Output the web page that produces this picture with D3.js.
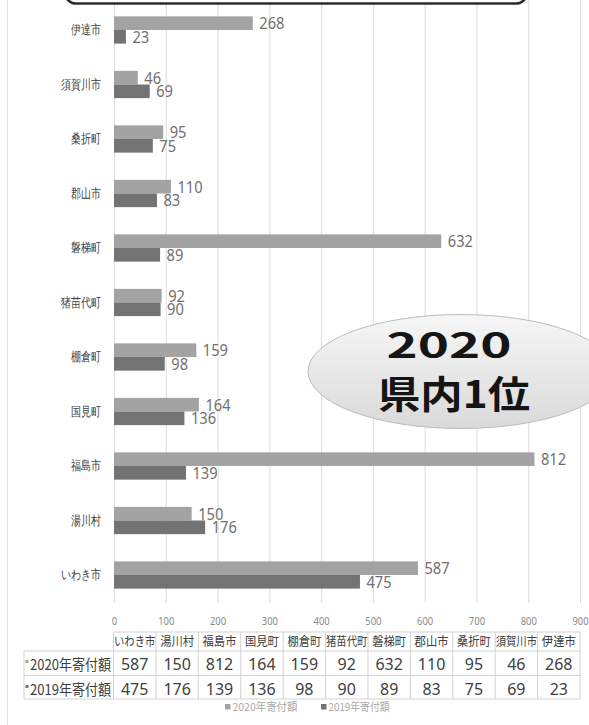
<!DOCTYPE html>
<html lang="ja">
<head>
<meta charset="utf-8">
<script src="https://cdn.jsdelivr.net/npm/d3@7"></script>
<style>
  html, body { margin: 0; padding: 0; background: #fff; }
  svg { display: block; font-family: "Noto Sans CJK JP", "Noto Sans", sans-serif; }
</style>
</head>
<body>
<svg id="chart" width="589" height="725"></svg>
<script>
// Municipalities, in table order (bottom bar first)
const categories = ["いわき市", "湯川村", "福島市", "国見町", "棚倉町", "猪苗代町", "磐梯町", "郡山市", "桑折町", "須賀川市", "伊達市"];
// Donation amounts per year
const values2020 = [587, 150, 812, 164, 159, 92, 632, 110, 95, 46, 268];
const values2019 = [475, 176, 139, 136, 98, 90, 89, 83, 75, 69, 23];
const seriesNames = ["2020年寄付額", "2019年寄付額"];
const tickValues = [0, 100, 200, 300, 400, 500, 600, 700, 800, 900];
const badgeLines = ["2020", "県内1位"];

const colors = { "2020年寄付額": "#a3a3a3", "2019年寄付額": "#737373" };
const seriesValues = { "2020年寄付額": values2020, "2019年寄付額": values2019 };

const svg = d3.select("#chart");

// Outer frame line on the left
svg.append("line")
  .attr("x1", 7.5).attr("x2", 7.5).attr("y1", 0).attr("y2", 725)
  .attr("stroke", "#e3e3e3").attr("stroke-width", 1);

const x = d3.scaleLinear().domain([0, 900]).range([114, 580]);
const y = d3.scaleBand()
  .domain(categories.slice().reverse())
  .range([2.75, 602.25])
  .paddingInner(0.5)
  .paddingOuter(0.25);
const ySub = d3.scaleBand().domain(seriesNames).range([0, y.bandwidth()]);

// Vertical gridlines
const grid = svg.append("g")
  .attr("transform", "translate(0,603)")
  .call(d3.axisBottom(x).tickValues(tickValues).tickSize(-603).tickFormat(""));
grid.select(".domain").remove();
grid.selectAll("line").attr("stroke", "#dcdcdc").attr("stroke-width", 1);

// Tick labels of the value axis
const xAxis = svg.append("g")
  .attr("transform", "translate(0,617)")
  .call(d3.axisBottom(x).tickValues(tickValues).tickSize(0).tickPadding(0));
xAxis.select(".domain").remove();
xAxis.selectAll("text")
  .attr("font-family", "'Noto Sans', sans-serif")
  .attr("font-size", 11)
  .attr("fill", "#8a8a8a")
  .attr("textLength", d => String(d).length * 5.4)
  .attr("lengthAdjust", "spacingAndGlyphs");

// Category axis
const yAxis = svg.append("g")
  .attr("transform", "translate(114,0)")
  .call(d3.axisLeft(y).tickSize(0).tickPadding(13));
yAxis.select(".domain").remove();
yAxis.selectAll("text")
  .attr("font-size", 13)
  .attr("fill", "#404040")
  .attr("textLength", d => d.length * 10)
  .attr("lengthAdjust", "spacingAndGlyphs");

// Bars
const rows = categories.map((c, i) => ({ cat: c, i }));
const groups = svg.append("g").selectAll("g")
  .data(rows).join("g")
  .attr("transform", d => `translate(0,${y(d.cat)})`);

groups.selectAll("rect")
  .data(d => seriesNames.map(s => ({ s, v: seriesValues[s][d.i] })))
  .join("rect")
  .attr("x", x(0))
  .attr("y", d => ySub(d.s))
  .attr("width", d => x(d.v) - x(0))
  .attr("height", ySub.bandwidth())
  .attr("fill", d => colors[d.s]);

groups.selectAll("text")
  .data(d => seriesNames.map(s => ({ s, v: seriesValues[s][d.i] })))
  .join("text")
  .attr("x", d => x(d.v) + 6.5)
  .attr("y", d => ySub(d.s) + ySub.bandwidth() / 2 + 5.8)
  .attr("font-family", "'Noto Sans', sans-serif")
  .attr("font-size", 16.5)
  .attr("fill", "#707070")
  .attr("textLength", d => String(d.v).length * 8.4)
  .attr("lengthAdjust", "spacingAndGlyphs")
  .text(d => d.v);

// Title frame at the top
svg.append("rect")
  .attr("x", 65).attr("y", -40).attr("width", 462).attr("height", 43.5)
  .attr("rx", 11).attr("ry", 11)
  .attr("fill", "#fff").attr("stroke", "#2e2e2e").attr("stroke-width", 2.6);

// Badge
const defs = svg.append("defs");
const grad = defs.append("linearGradient").attr("id", "badgeFill")
  .attr("x1", 0).attr("y1", 0).attr("x2", 0).attr("y2", 1);
grad.append("stop").attr("offset", "0%").attr("stop-color", "#f6f6f6");
grad.append("stop").attr("offset", "100%").attr("stop-color", "#dadada");

svg.append("ellipse")
  .attr("cx", 461).attr("cy", 371.5).attr("rx", 153).attr("ry", 57)
  .attr("fill", "url(#badgeFill)").attr("stroke", "#bcbcbc").attr("stroke-width", 1);

svg.append("text")
  .attr("x", 449).attr("y", 358)
  .attr("text-anchor", "middle")
  .attr("font-size", 35).attr("font-weight", 700).attr("fill", "#151515")
  .attr("textLength", 125).attr("lengthAdjust", "spacingAndGlyphs")
  .text(badgeLines[0]);
svg.append("text")
  .attr("x", 454).attr("y", 408)
  .attr("text-anchor", "middle")
  .attr("font-size", 38).attr("font-weight", 700).attr("fill", "#151515")
  .attr("textLength", 152).attr("lengthAdjust", "spacingAndGlyphs")
  .text(badgeLines[1]);

// Data table
const col = d3.scaleBand().domain(categories).range([113.5, 580]);
const table = svg.append("g");
const lineColor = "#d2d2d2";
const hLines = [
  { y: 632, x1: 113.5 },
  { y: 651, x1: 24 },
  { y: 675.5, x1: 24 },
  { y: 699, x1: 24 }
];
table.selectAll("line.h").data(hLines).join("line")
  .attr("class", "h")
  .attr("x1", d => d.x1).attr("x2", 580)
  .attr("y1", d => d.y).attr("y2", d => d.y)
  .attr("stroke", lineColor).attr("stroke-width", 1);
const vEdges = categories.map(c => col(c)).concat([580]);
table.selectAll("line.v").data(vEdges).join("line")
  .attr("class", "v")
  .attr("x1", d => d).attr("x2", d => d)
  .attr("y1", 632).attr("y2", 699)
  .attr("stroke", lineColor).attr("stroke-width", 1);
table.append("line")
  .attr("x1", 24).attr("x2", 24).attr("y1", 651).attr("y2", 699)
  .attr("stroke", lineColor).attr("stroke-width", 1);

// Header row
table.selectAll("text.head").data(categories).join("text")
  .attr("class", "head")
  .attr("x", d => col(d) + col.bandwidth() / 2)
  .attr("y", 645.5)
  .attr("text-anchor", "middle")
  .attr("font-size", 12.5)
  .attr("fill", "#404040")
  .attr("textLength", d => Math.min(d.length * 11.3, 41.5))
  .attr("lengthAdjust", "spacingAndGlyphs")
  .text(d => d);

// Value rows
const baselines = { "2020年寄付額": 670, "2019年寄付額": 695 };
seriesNames.forEach(s => {
  table.append("rect")
    .attr("x", 25.5).attr("y", baselines[s] - 10).attr("width", 3).attr("height", 3)
    .attr("fill", colors[s]);
  table.append("text")
    .attr("x", 30).attr("y", baselines[s])
    .attr("font-size", 15)
    .attr("fill", "#404040")
    .attr("textLength", 81)
    .attr("lengthAdjust", "spacingAndGlyphs")
    .text(s);
  table.selectAll(null).data(categories).join("text")
    .attr("x", d => col(d) + col.bandwidth() / 2)
    .attr("y", baselines[s])
    .attr("text-anchor", "middle")
    .attr("font-family", "'Noto Sans', sans-serif")
    .attr("font-size", 16)
    .attr("fill", "#404040")
    .text((d, i) => seriesValues[s][i]);
});

// Legend
const legendPos = [225, 321];
const legend = svg.append("g");
seriesNames.forEach((s, i) => {
  legend.append("rect")
    .attr("x", legendPos[i]).attr("y", 704).attr("width", 5.5).attr("height", 5.5)
    .attr("fill", colors[s]);
  legend.append("text")
    .attr("x", legendPos[i] + 7.5).attr("y", 711)
    .attr("font-size", 11)
    .attr("fill", "#a8a8a8")
    .attr("textLength", i === 0 ? 65 : 61)
    .attr("lengthAdjust", "spacingAndGlyphs")
    .text(s);
});
</script>
</body>
</html>
